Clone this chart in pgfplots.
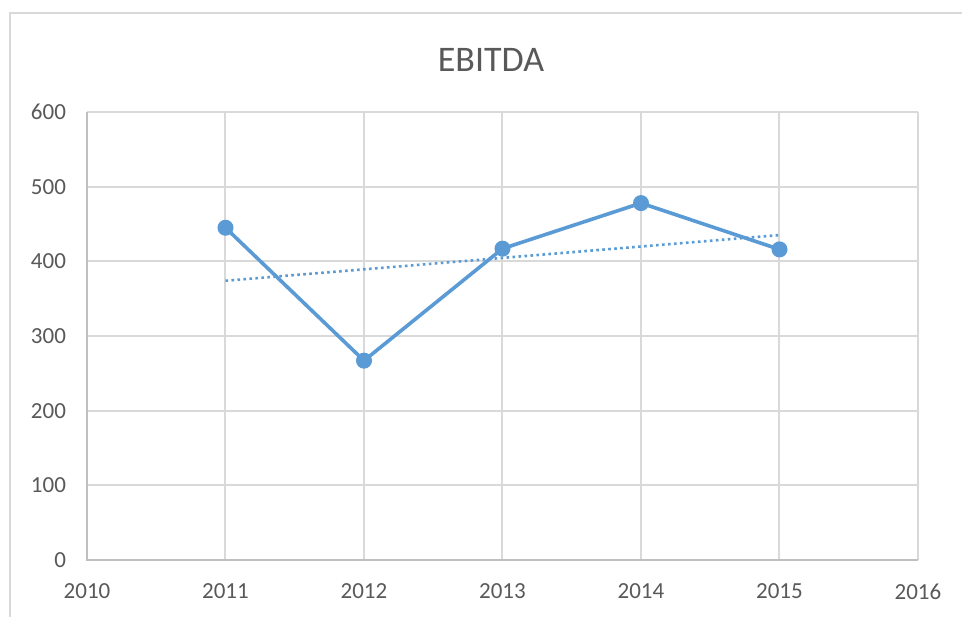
\documentclass[border=0pt]{standalone}
\usepackage{fontspec}
\setmainfont{Carlito}
\usepackage{pgfplots}
\pgfplotsset{compat=1.18}
\definecolor{txt}{HTML}{595959}
\definecolor{grd}{HTML}{D9D9D9}
\definecolor{axl}{HTML}{BFBFBF}
\definecolor{ser}{HTML}{5B9BD5}
\begin{document}
\begin{tikzpicture}
\clip (0,0) rectangle (481pt,308pt);
\fill[white] (0,0) rectangle (481pt,308pt);
\draw[grd, line width=1.2pt] (5pt,-20pt) rectangle (500pt,301.5pt);
\begin{axis}[
  at={(43.5pt,28pt)}, anchor=south west,
  scale only axis, width=415.5pt, height=224pt,
  xmin=2010, xmax=2016, ymin=0, ymax=600,
  xtick={2010,...,2016}, ytick={0,100,...,600},
  grid=major, major grid style={grd, line width=1pt},
  axis line style={draw=none},
  tick style={draw=none},
  xticklabel style={/pgf/number format/1000 sep={}, yshift=-8.5pt},
  yticklabel style={xshift=-7pt},
  /pgf/number format/assume math mode=true,
  ticklabel style={font=\fontsize{11.5}{13}\selectfont, text=txt},
  xticklabel={\pgfmathprintnumber[1000 sep={},fixed,precision=0]{\tick}},
  clip=false,
]
\draw[axl, line width=1pt] (axis cs:2010,600) -- (axis cs:2010,0) -- (axis cs:2016,0);
\addplot[ser, line width=1.8pt, mark=*, mark size=3.5pt, mark options={fill=ser, draw=ser, line width=1pt}]
  coordinates {(2011,445) (2012,267) (2013,417) (2014,478) (2015,416)};
\addplot[ser, line width=1.3pt, dash pattern=on 1.3pt off 1.7pt, no marks]
  coordinates {(2011,374) (2015,435.2)};
\end{axis}
\node[text=txt, font=\fontsize{18}{21}\selectfont] at (245.5pt,278pt) {EBITDA};
\end{tikzpicture}
\end{document}
